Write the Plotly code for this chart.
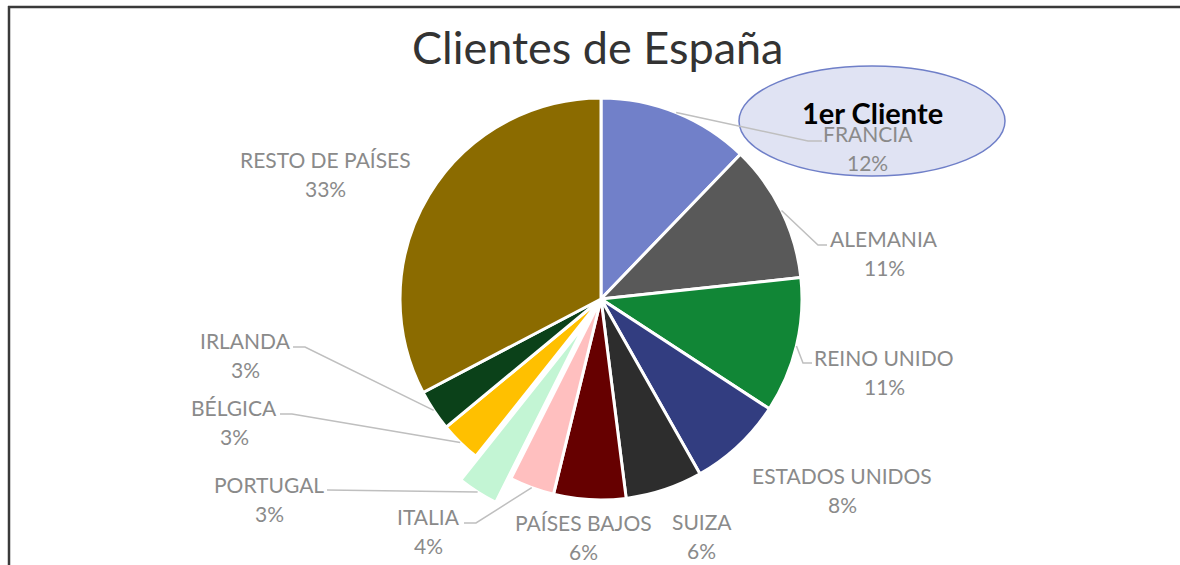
import math
import plotly.graph_objects as go

# ---------------- data ----------------
paises = ["FRANCIA", "ALEMANIA", "REINO UNIDO", "ESTADOS UNIDOS", "SUIZA",
          "PAÍSES BAJOS", "ITALIA", "PORTUGAL", "BÉLGICA", "IRLANDA",
          "RESTO DE PAÍSES"]
cuota = [12.2, 11.1, 10.9, 7.6, 6.2, 5.8, 3.6, 3.3, 3.3, 3.3, 32.7]
titulo = "Clientes de España"
nota = "1er Cliente"

# ---------------- style ----------------
colores = ["#7180C9", "#595959", "#118636", "#323D80", "#2D2D2D", "#660000",
           "#FFBFBF", "#C3F5D4", "#FFC000", "#0B4119", "#8B6B00"]
separado = [0, 0, 0, 0, 0, 0, 0, 0.14, 0, 0, 0]

W, H = 1180, 565
CX, CY, R = 601, 299, 201          # pie centre / radius in pixels
FONT = "Lato"
LABEL_COLOR = "#8A8A8A"
LINE_COLOR = "#BFBFBF"
LINE_GAP = 29.5

# label centres (pixels: x, y of the name line) and leader-line bend points
label_pos = {
    "FRANCIA": (868, 133), "ALEMANIA": (884, 238), "REINO UNIDO": (884, 357),
    "ESTADOS UNIDOS": (842, 475), "SUIZA": (702, 521), "PAÍSES BAJOS": (583, 522),
    "ITALIA": (428, 516), "PORTUGAL": (269, 484), "BÉLGICA": (234, 407),
    "IRLANDA": (245, 340), "RESTO DE PAÍSES": (325, 159),
}
leader_pts = {
    "FRANCIA": [(808, 141), (822, 141)],
    "ALEMANIA": [(818, 245), (827, 245)],
    "REINO UNIDO": [(803, 363), (812, 363)],
    "ITALIA": [(476, 523), (464, 523)],
    "PORTUGAL": [(327, 490)],
    "BÉLGICA": [(292, 414), (280, 414)],
    "IRLANDA": [(305, 347), (293, 347)],
}


def px(x):
    return x / W


def py(y):
    return 1 - y / H


half = R * (1 + max(separado))
fig = go.Figure(go.Pie(
    labels=paises, values=cuota, sort=False, direction="clockwise", rotation=0,
    marker=dict(colors=colores, line=dict(color="white", width=3)),
    pull=separado, textinfo="none", hoverinfo="label+percent",
    domain=dict(x=[px(CX - half), px(CX + half)], y=[py(CY + half), py(CY - half)]),
    showlegend=False,
))

shapes = []
# frame (left and top edges only)
shapes.append(dict(type="line", xref="paper", yref="paper", x0=px(9), x1=px(9),
                   y0=py(6), y1=py(H), line=dict(color="#3A3A3A", width=2.5)))
shapes.append(dict(type="line", xref="paper", yref="paper", x0=px(8), x1=px(W),
                   y0=py(7), y1=py(7), line=dict(color="#3A3A3A", width=2.5)))
# callout ellipse
shapes.append(dict(type="circle", xref="paper", yref="paper",
                   x0=px(739), x1=px(1005), y0=py(176), y1=py(66),
                   fillcolor="#E0E3F3", line=dict(color="#6F7FC8", width=1.5)))

total = sum(cuota)
cum = 0.0
annotations = []
for name, v, pl in zip(paises, cuota, separado):
    theta = 2 * math.pi * (cum + v / 2) / total
    cum += v
    rr = R * (1 + pl)
    sx, sy = CX + rr * math.sin(theta), CY - rr * math.cos(theta)
    if name in leader_pts:
        pts = [(sx, sy)] + leader_pts[name]
        path = "M " + " L ".join(f"{px(a):.5f},{py(b):.5f}" for a, b in pts)
        shapes.append(dict(type="path", xref="paper", yref="paper", path=path,
                           line=dict(color=LINE_COLOR, width=1.5)))
    lx, ly = label_pos[name]
    pct = round(v / total * 100)
    for txt, yy in ((name, ly), (f"{pct}%", ly + LINE_GAP)):
        annotations.append(dict(
            x=px(lx), y=py(yy), xref="paper", yref="paper", showarrow=False,
            text=txt, xanchor="center", yanchor="middle",
            font=dict(family=FONT, size=21, color=LABEL_COLOR)))

annotations.append(dict(x=px(597), y=py(47), xref="paper", yref="paper", showarrow=False,
                        text=titulo, xanchor="center", yanchor="middle",
                        font=dict(family=FONT, size=45, color="#333333")))
annotations.append(dict(x=px(872), y=py(112), xref="paper", yref="paper", showarrow=False,
                        text=f"<b>{nota}</b>", xanchor="center", yanchor="middle",
                        font=dict(family=FONT, size=29, color="#000000")))

fig.update_layout(
    width=W, height=H, margin=dict(l=0, r=0, t=0, b=0),
    paper_bgcolor="white", plot_bgcolor="white",
    shapes=shapes, annotations=annotations,
)
fig.write_html("out.html", config={"displayModeBar": False},
               post_script=("document.body.style.margin='0';"
                            "document.body.style.overflow='hidden';"
                            "document.documentElement.style.overflow='hidden';"))
